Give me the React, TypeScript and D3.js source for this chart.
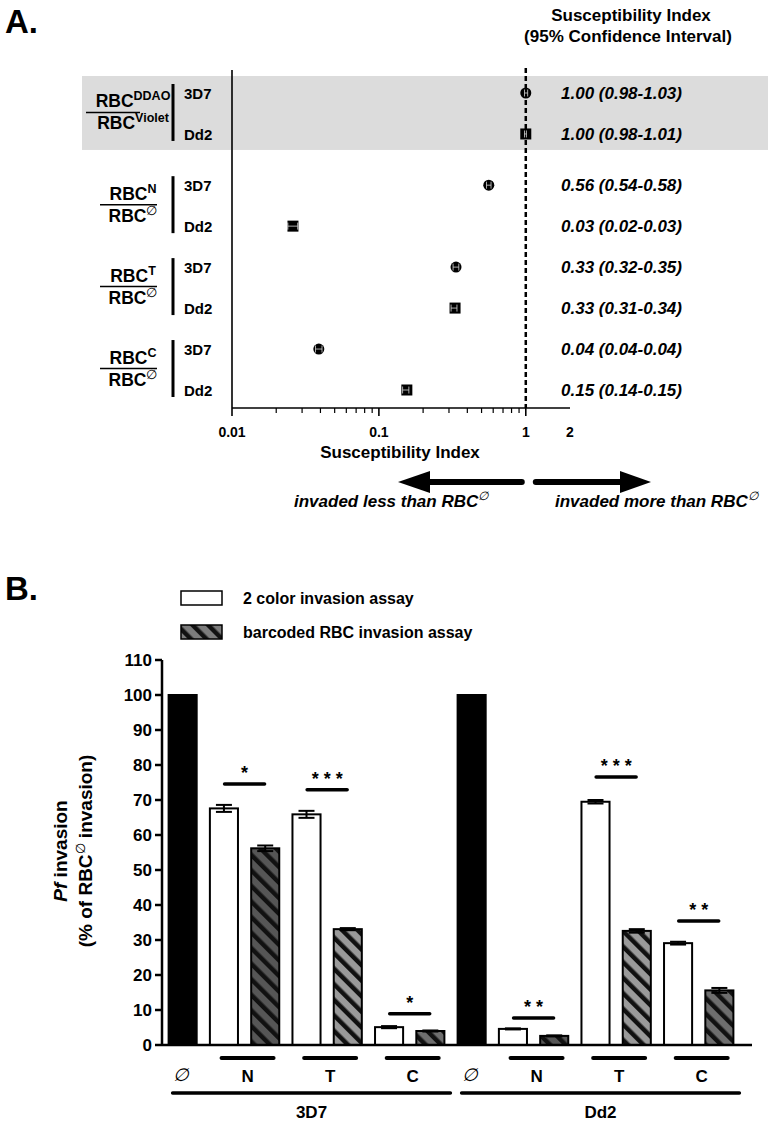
import React from "react";
import * as d3 from "d3";

const FONT = "'Liberation Sans', Arial, Helvetica, sans-serif";
const W = 775;
const H = 1125;

// ---------- Panel A data ----------
const ratioNumerators = ["DDAO", "N", "T", "C"];
const ratioDenominators = ["Violet", "∅", "∅", "∅"];
const strainsA = ["3D7", "Dd2"];
const siValue = [
  [1.0, 1.0],
  [0.56, 0.026],
  [0.335, 0.33],
  [0.039, 0.155],
];
const siLow = [
  [0.98, 0.98],
  [0.54, 0.024],
  [0.32, 0.31],
  [0.037, 0.145],
];
const siHigh = [
  [1.03, 1.01],
  [0.58, 0.028],
  [0.35, 0.34],
  [0.041, 0.16],
];
const siLabels = [
  ["1.00 (0.98-1.03)", "1.00 (0.98-1.01)"],
  ["0.56 (0.54-0.58)", "0.03 (0.02-0.03)"],
  ["0.33 (0.32-0.35)", "0.33 (0.31-0.34)"],
  ["0.04 (0.04-0.04)", "0.15 (0.14-0.15)"],
];
const siTickValues = [0.01, 0.1, 1, 2];
const siTickLabels = ["0.01", "0.1", "1", "2"];

// ---------- Panel B data ----------
const strainsB = ["3D7", "Dd2"];
const treatments = ["N", "T", "C"];
const controlInvasion = [100, 100];
const twoColorMean = [
  [67.6, 65.9, 5.1],
  [4.6, 69.5, 29.1],
];
const twoColorErr = [
  [1.0, 1.0, 0.3],
  [0.15, 0.5, 0.4],
];
const barcodedMean = [
  [56.2, 33.1, 4.0],
  [2.6, 32.6, 15.6],
];
const barcodedErr = [
  [0.8, 0.3, 0.15],
  [0.15, 0.5, 0.7],
];
const sigMarks = [
  ["*", "***", "*"],
  ["**", "***", "**"],
];
const sigLevels = [
  [74.6, 72.9, 8.9],
  [7.7, 76.6, 35.4],
];
const yTicksB = [0, 10, 20, 30, 40, 50, 60, 70, 80, 90, 100, 110];
const legendLabels = ["2 color invasion assay", "barcoded RBC invasion assay"];

const hatchFill: Record<string, string> = { N: "#565656", T: "#9a9a9a", C: "#6e6e6e", legend: "#7c7c7c" };

export default function App() {
  // ---------- Panel A scales ----------
  const xA = d3.scaleLog().domain([0.01, 2]).range([232, 570]);
  const slotA = (g: number, s: number) => g * 2 + s + (g > 0 ? 0.25 : 0);
  const yA = d3.scaleLinear().domain([0, 7.25]).range([93, 390]);
  const axisYA = 408;
  const topA = 70;
  const minorTicks: number[] = [];
  [0.01, 0.1].forEach((dec) => {
    for (let k = 2; k <= 9; k++) minorTicks.push(dec * k);
  });

  // ---------- Panel B scales ----------
  const keys: string[] = [];
  strainsB.forEach((s) => {
    keys.push(`${s}|ctrl`);
    treatments.forEach((t) => {
      keys.push(`${s}|${t}|2c`);
      keys.push(`${s}|${t}|bc`);
    });
  });
  const xB = d3.scaleBand().domain(keys).range([162, 740]).paddingInner(0.32).paddingOuter(0.16);
  const yB = d3.scaleLinear().domain([0, 110]).range([1045, 660]);
  const bw = xB.bandwidth();
  const ctr = (k: string) => (xB(k) as number) + bw / 2;

  const bars: any[] = [];
  strainsB.forEach((s, si) => {
    bars.push({ key: `${s}|ctrl`, v: controlInvasion[si], err: 0, kind: "ctrl", t: "" });
    treatments.forEach((t, ti) => {
      bars.push({ key: `${s}|${t}|2c`, v: twoColorMean[si][ti], err: twoColorErr[si][ti], kind: "2c", t });
      bars.push({ key: `${s}|${t}|bc`, v: barcodedMean[si][ti], err: barcodedErr[si][ti], kind: "bc", t });
    });
  });

  const boldText = { fontFamily: FONT, fontWeight: 700 } as any;

  return (
    <svg
      width={W}
      height={H}
      viewBox={`0 0 ${W} ${H}`}
      style={{ position: "absolute", left: 0, top: 0, display: "block", background: "#fff" }}
    >
      <defs>
        {Object.keys(hatchFill).map((k) => (
          <pattern
            key={k}
            id={`hatch-${k}`}
            patternUnits="userSpaceOnUse"
            width={11}
            height={11}
            patternTransform="rotate(-45)"
          >
            <rect width={11} height={11} fill={hatchFill[k]} />
            <rect width={4.5} height={11} fill="#111" />
          </pattern>
        ))}
      </defs>
      <rect x={0} y={0} width={W} height={H} fill="#fff" />

      {/* ================= PANEL A ================= */}
      <text x={5} y={33} fontSize={33} {...boldText}>A.</text>
      <text x={631} y={21} fontSize={17} textAnchor="middle" {...boldText}>Susceptibility Index</text>
      <text x={628} y={42} fontSize={17} textAnchor="middle" {...boldText}>(95% Confidence Interval)</text>

      {/* shaded band for control ratio */}
      <rect x={82} y={yA(slotA(0, 0)) - 17} width={686} height={yA(slotA(0, 1)) - yA(slotA(0, 0)) + 33} fill="#dcdcdc" />

      {/* row labels */}
      {ratioNumerators.map((num, g) => {
        const y0 = yA(slotA(g, 0));
        const y1 = yA(slotA(g, 1));
        const yc = (y0 + y1) / 2;
        const lx = g === 0 ? [86, 140] : [100, 157];
        return (
          <g key={`lab${g}`}>
            <text x={133} y={yc - 6} fontSize={17.5} textAnchor="middle" {...boldText}>
              RBC<tspan fontSize={12.5} dy={-7}>{num}</tspan>
            </text>
            <line x1={lx[0]} x2={lx[1]} y1={yc - 1} y2={yc - 1} stroke="#000" strokeWidth={1.5} />
            <text x={133} y={yc + 16} fontSize={17.5} textAnchor="middle" {...boldText}>
              RBC<tspan fontSize={12.5} dy={-7} fontWeight={ratioDenominators[g] === "∅" ? 400 : 700}>{ratioDenominators[g]}</tspan>
            </text>
            <line x1={173} x2={173} y1={y0 - 9} y2={y1 + 7} stroke="#000" strokeWidth={3} />
            {strainsA.map((s, si) => (
              <text key={s} x={184} y={yA(slotA(g, si)) + 6} fontSize={15} {...boldText}>{s}</text>
            ))}
          </g>
        );
      })}

      {/* dashed reference line at 1 */}
      <line x1={xA(1)} x2={xA(1)} y1={topA - 2} y2={axisYA} stroke="#000" strokeWidth={2.5} strokeDasharray="5,3" />

      {/* axes */}
      <line x1={232} x2={232} y1={topA} y2={axisYA} stroke="#000" strokeWidth={1.6} />
      <line x1={232} x2={xA(2)} y1={axisYA} y2={axisYA} stroke="#000" strokeWidth={1.6} />
      {minorTicks.map((t, i) => (
        <line key={`mt${i}`} x1={xA(t)} x2={xA(t)} y1={axisYA} y2={axisYA + 5} stroke="#000" strokeWidth={1.2} />
      ))}
      {[0.01, 0.1, 1].map((t) => (
        <line key={`Mt${t}`} x1={xA(t)} x2={xA(t)} y1={axisYA} y2={axisYA + 8} stroke="#000" strokeWidth={1.6} />
      ))}
      {siTickValues.map((t, i) => (
        <text key={`tl${i}`} x={xA(t)} y={437} fontSize={14} textAnchor="middle" {...boldText}>{siTickLabels[i]}</text>
      ))}
      <text x={400} y={458} fontSize={17} textAnchor="middle" {...boldText}>Susceptibility Index</text>

      {/* markers */}
      {siValue.map((row, g) =>
        row.map((v, s) => {
          const cx = xA(v);
          const cy = yA(slotA(g, s));
          const lo = xA(siLow[g][s]);
          const hi = xA(siHigh[g][s]);
          return (
            <g key={`m${g}${s}`}>
              {s === 0 ? (
                <circle cx={cx} cy={cy} r={5.5} fill="#000" />
              ) : (
                <rect x={cx - 5.5} y={cy - 5.5} width={11} height={11} fill="#000" />
              )}
              <g stroke="#fff" strokeWidth={0.8} opacity={0.85}>
                <line x1={lo} x2={hi} y1={cy} y2={cy} />
                <line x1={lo} x2={lo} y1={cy - 3.5} y2={cy + 3.5} />
                <line x1={hi} x2={hi} y1={cy - 3.5} y2={cy + 3.5} />
              </g>
            </g>
          );
        })
      )}

      {/* value text column */}
      {siLabels.map((row, g) =>
        row.map((t, s) => (
          <text key={`v${g}${s}`} x={561} y={yA(slotA(g, s)) + 6} fontSize={17} fontStyle="italic" {...boldText}>{t}</text>
        ))
      )}

      {/* arrows */}
      <line x1={xA(1) - 4} x2={424} y1={482} y2={482} stroke="#000" strokeWidth={6} strokeLinecap="round" />
      <polygon points={`398,482 430,471 430,493`} fill="#000" />
      <line x1={xA(1) + 10} x2={624} y1={482} y2={482} stroke="#000" strokeWidth={6} strokeLinecap="round" />
      <polygon points={`651,482 620,471 620,493`} fill="#000" />
      <text x={294} y={507} fontSize={17} fontStyle="italic" {...boldText}>
        invaded less than RBC<tspan fontSize={12} dy={-7} fontWeight={400}>∅</tspan>
      </text>
      <text x={555} y={507} fontSize={17} fontStyle="italic" {...boldText}>
        invaded more than RBC<tspan fontSize={12} dy={-7} fontWeight={400}>∅</tspan>
      </text>

      {/* ================= PANEL B ================= */}
      <text x={5} y={600} fontSize={33} {...boldText}>B.</text>

      {/* legend */}
      <rect x={181} y={591} width={41} height={14} fill="#fff" stroke="#000" strokeWidth={1.5} />
      <text x={243} y={604} fontSize={16} {...boldText}>{legendLabels[0]}</text>
      <rect x={181} y={625} width={41} height={14} fill="url(#hatch-legend)" stroke="#000" strokeWidth={1.5} />
      <text x={243} y={638} fontSize={16} {...boldText}>{legendLabels[1]}</text>

      {/* y axis */}
      <line x1={162} x2={162} y1={yB(110)} y2={yB(0)} stroke="#000" strokeWidth={2.5} />
      {yTicksB.map((t) => (
        <g key={`yt${t}`}>
          <line x1={155} x2={162} y1={yB(t)} y2={yB(t)} stroke="#000" strokeWidth={2.5} />
          <text x={152} y={yB(t) + 6} fontSize={17} textAnchor="end" {...boldText}>{t}</text>
        </g>
      ))}
      <text transform={`translate(67,851) rotate(-90)`} fontSize={19} textAnchor="middle" {...boldText}>
        <tspan fontStyle="italic">Pf</tspan> invasion
      </text>
      <text transform={`translate(92,851) rotate(-90)`} fontSize={19} textAnchor="middle" {...boldText}>
        (% of RBC<tspan fontSize={13} dy={-7} fontWeight={400}>∅</tspan><tspan dy={7}> invasion)</tspan>
      </text>

      {/* bars */}
      {bars.map((b) => {
        const x = xB(b.key) as number;
        const y = yB(b.v);
        const fill = b.kind === "ctrl" ? "#000" : b.kind === "2c" ? "#fff" : `url(#hatch-${b.t})`;
        return (
          <g key={b.key}>
            <rect x={x} y={y} width={bw} height={yB(0) - y} fill={fill} stroke="#000" strokeWidth={2} />
            {b.err > 0 && (
              <g stroke="#000" strokeWidth={2}>
                <line x1={x + bw / 2} x2={x + bw / 2} y1={yB(b.v + b.err)} y2={yB(b.v - b.err)} />
                <line x1={x + bw / 2 - 8} x2={x + bw / 2 + 8} y1={yB(b.v + b.err)} y2={yB(b.v + b.err)} />
                <line x1={x + bw / 2 - 8} x2={x + bw / 2 + 8} y1={yB(b.v - b.err)} y2={yB(b.v - b.err)} />
              </g>
            )}
          </g>
        );
      })}

      {/* x axis */}
      <line x1={162} x2={752} y1={yB(0)} y2={yB(0)} stroke="#000" strokeWidth={2.5} />

      {/* significance */}
      {strainsB.map((s, si) =>
        treatments.map((t, ti) => {
          const c = (ctr(`${s}|${t}|2c`) + ctr(`${s}|${t}|bc`)) / 2;
          const ly = yB(sigLevels[si][ti]);
          return (
            <g key={`sig${s}${t}`}>
              <line x1={c - 20} x2={c + 20} y1={ly} y2={ly} stroke="#000" strokeWidth={3.5} strokeLinecap="round" />
              <text x={c} y={ly - 5} fontSize={18} textAnchor="middle" {...boldText}>
                {sigMarks[si][ti].split("").join(" ")}
              </text>
            </g>
          );
        })
      )}

      {/* category labels below axis */}
      {strainsB.map((s) => {
        const first = xB(`${s}|ctrl`) as number;
        const last = (xB(`${s}|C|bc`) as number) + bw;
        return (
          <g key={`cat${s}`}>
            <text x={ctr(`${s}|ctrl`) - 2} y={1081} fontSize={18} textAnchor="middle" fontFamily={FONT} fontStyle="italic">∅</text>
            {treatments.map((t) => {
              const c = (ctr(`${s}|${t}|2c`) + ctr(`${s}|${t}|bc`)) / 2 + 3;
              return (
                <g key={`tl${s}${t}`}>
                  <line x1={c - 26} x2={c + 26} y1={1058} y2={1058} stroke="#000" strokeWidth={4} strokeLinecap="round" />
                  <text x={c} y={1082} fontSize={17} textAnchor="middle" {...boldText}>{t}</text>
                </g>
              );
            })}
            <line x1={first + 4} x2={last + 6} y1={1093} y2={1093} stroke="#000" strokeWidth={3.5} strokeLinecap="round" />
            <text x={(first + last + 10) / 2} y={1118} fontSize={17} textAnchor="middle" {...boldText}>{s}</text>
          </g>
        );
      })}
    </svg>
  );
}
